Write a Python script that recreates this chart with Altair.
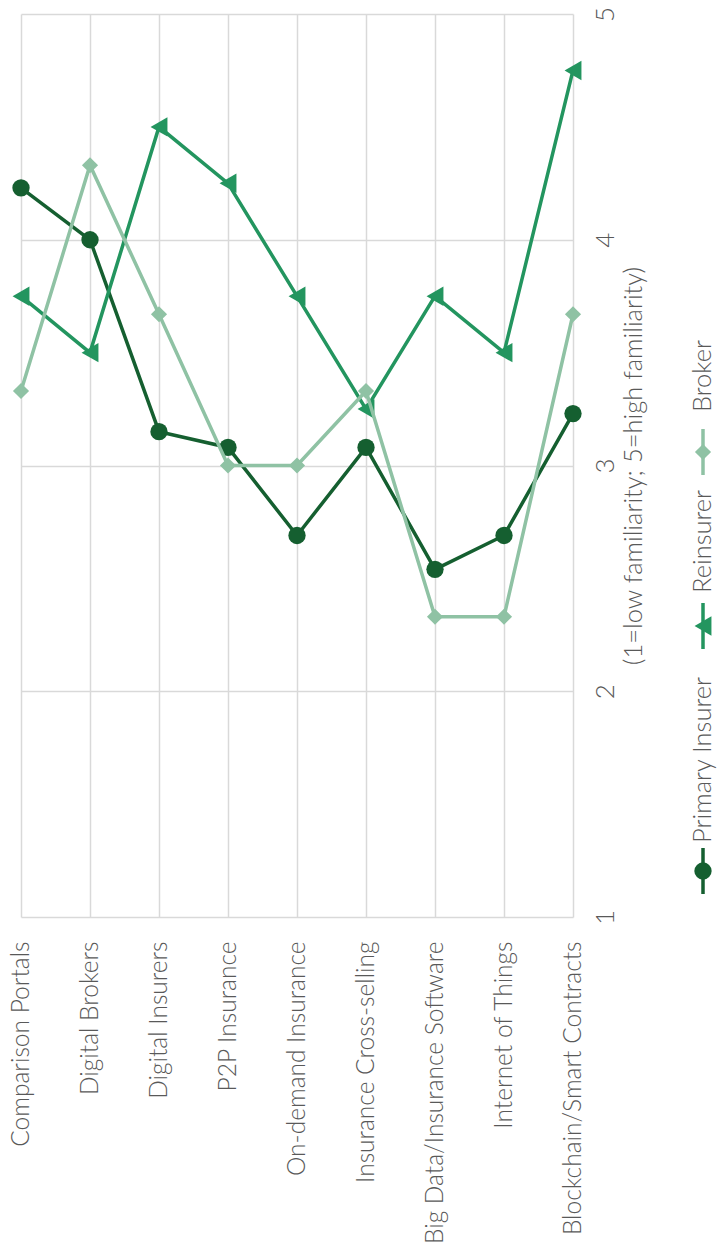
import altair as alt
import pandas as pd

categories = [
    "Comparison Portals",
    "Digital Brokers",
    "Digital Insurers",
    "P2P Insurance",
    "On-demand Insurance",
    "Insurance Cross-selling",
    "Big Data/Insurance Software",
    "Internet of Things",
    "Blockchain/Smart Contracts",
]
series_names = ["Primary Insurer", "Reinsurer", "Broker"]
primary = [4.23, 4.00, 3.15, 3.08, 2.69, 3.08, 2.54, 2.69, 3.23]
reinsurer = [3.75, 3.50, 4.50, 4.25, 3.75, 3.25, 3.75, 3.50, 4.75]
broker = [3.33, 4.33, 3.67, 3.00, 3.00, 3.33, 2.33, 2.33, 3.67]
axis_values = [1, 2, 3, 4, 5]
axis_title = "(1=low familiarity; 5=high familiarity)"

colors = ["#155f30", "#23955f", "#8fc2a4"]
shapes = ["circle", "triangle-left", "diamond"]
sizes = [300, 380, 260]

rows = []
for name, vals in zip(series_names, [primary, reinsurer, broker]):
    for c, v in zip(categories, vals):
        rows.append({"category": c, "series": name, "value": v})
df = pd.DataFrame(rows)

FONT = "Lato"
TXT = "#595959"
GRID = "#d9d9d9"

x = alt.X(
    "category:N",
    sort=categories,
    scale=alt.Scale(type="point", padding=0),
    axis=alt.Axis(
        title=None, orient="bottom", labelAngle=270, labelAlign="right",
        labelBaseline="middle", labelPadding=24, ticks=False, domain=False,
        grid=True, gridColor=GRID, gridWidth=1.5, labelFontSize=24.5,
        labelColor=TXT, labelFont=FONT, labelFontWeight=300, labelLimit=0,
    ),
)
y = alt.Y(
    "value:Q",
    scale=alt.Scale(domain=[1, 5], nice=False, zero=False),
    axis=alt.Axis(
        orient="right", values=axis_values, title=axis_title, titleAngle=270,
        titleBaseline="top", titleAlign="center", titlePadding=3,
        titleFontSize=25.5, titleFont=FONT, titleFontWeight=300, titleColor=TXT,
        labelAngle=270, labelAlign="center", labelBaseline="top",
        labelPadding=19, labelFontSize=26, labelFont=FONT, labelFontWeight=300,
        labelColor=TXT, ticks=False, domain=False, grid=True, gridColor=GRID,
        gridWidth=1.5,
    ),
)

layers = []
for i, name in enumerate(series_names):
    sub = df[df["series"] == name]
    base = alt.Chart(sub).encode(x=x, y=y)
    layers.append(base.mark_line(color=colors[i], strokeWidth=3.5))
    layers.append(
        base.mark_point(shape=shapes[i], filled=True, opacity=1, size=sizes[i], color=colors[i])
    )

# custom rotated legend
legend_mid = [857, 612, 438]
legend_text_start = [829, 579, 398]
LX = 682
for i, name in enumerate(series_names):
    ld = pd.DataFrame({"label": [name]})
    lb = alt.Chart(ld)
    layers.append(
        lb.mark_rule(color=colors[i], strokeWidth=3.5).encode(
            x=alt.value(LX), y=alt.value(legend_mid[i] - 23), y2=alt.value(legend_mid[i] + 23)
        )
    )
    layers.append(
        lb.mark_point(shape=shapes[i], filled=True, opacity=1, size=sizes[i], color=colors[i]).encode(
            x=alt.value(LX), y=alt.value(legend_mid[i])
        )
    )
    layers.append(
        lb.mark_text(angle=270, align="left", baseline="middle", font=FONT, fontSize=25.5,
                     fontWeight=300, color=TXT).encode(
            x=alt.value(LX), y=alt.value(legend_text_start[i]), text="label:N"
        )
    )

chart = (
    alt.layer(*layers)
    .properties(
        width=552,
        height=903,
        autosize=alt.AutoSizeParams(type="none"),
        padding={"left": 13, "top": 6, "right": 144, "bottom": 328},
    )
    .configure_view(stroke=None)
)

chart.save("out.html", embed_options={"renderer": "svg", "actions": False})
